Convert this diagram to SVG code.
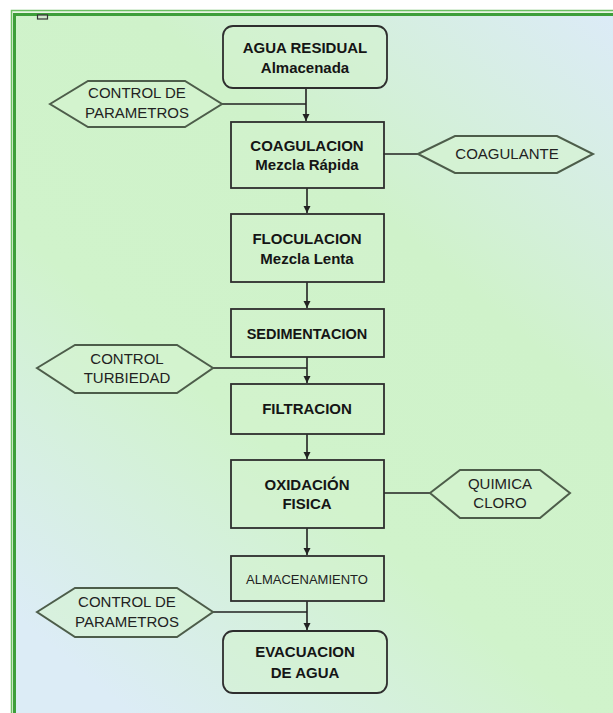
<svg xmlns="http://www.w3.org/2000/svg" width="613" height="713" viewBox="0 0 613 713">
<defs>
<linearGradient id="bg" x1="613" y1="16" x2="16" y2="713" gradientUnits="userSpaceOnUse">
<stop offset="0" stop-color="#dcebf7"/>
<stop offset="0.33" stop-color="#cff2ca"/>
<stop offset="0.6" stop-color="#d0f3cb"/>
<stop offset="0.92" stop-color="#dcecf6"/>
</linearGradient>
<marker id="arr" markerWidth="8" markerHeight="8" refX="7" refY="4" orient="auto" markerUnits="userSpaceOnUse">
<path d="M0,0.5 L7,4 L0,7.5 z" fill="#222"/>
</marker>
<style>
.box{fill:#d3f3cd;fill-opacity:0.55;stroke:#2e2e2e;stroke-width:1.8}
.hex{fill:#d6f4d0;fill-opacity:0.6;stroke:#4d5d4a;stroke-width:2}
.con{fill:none;stroke:#222;stroke-width:1.6}
.tb{font-family:"Liberation Sans",Arial,sans-serif;font-weight:bold;font-size:15px;fill:#151515;text-anchor:middle}
.tn{font-family:"Liberation Sans",Arial,sans-serif;font-size:15px;fill:#222;text-anchor:middle}
</style>
</defs>
<rect x="0" y="0" width="613" height="713" fill="#ffffff"/>
<rect x="12" y="11" width="601" height="702" fill="#eaf6e6"/>
<rect x="16" y="16" width="597" height="697" fill="url(#bg)"/>
<path d="M11.5,713 V10.5 H613" fill="none" stroke="#6cbf63" stroke-width="1.5"/>
<path d="M14.5,713 V14.5 H613" fill="none" stroke="#3d9e3a" stroke-width="3"/>
<rect x="37.5" y="15" width="10" height="4" fill="#cfe6cc" stroke="#333" stroke-width="1.2"/>

<g id="connectors">
<path class="con" d="M306,88 V121" marker-end="url(#arr)"/>
<path class="con" d="M222,104 H306"/>
<path class="con" d="M307,188 V213" marker-end="url(#arr)"/>
<path class="con" d="M383,154 H418"/>
<path class="con" d="M307,282 V308" marker-end="url(#arr)"/>
<path class="con" d="M307,357 V383" marker-end="url(#arr)"/>
<path class="con" d="M213,368 H307"/>
<path class="con" d="M307,434 V459" marker-end="url(#arr)"/>
<path class="con" d="M384,493 H430"/>
<path class="con" d="M307,528 V555" marker-end="url(#arr)"/>
<path class="con" d="M307,601 V630" marker-end="url(#arr)"/>
<path class="con" d="M213,612 H307"/>
</g>

<g id="agua-residual">
<rect class="box" x="223" y="26" width="164" height="62" rx="10"/>
<text class="tb" x="305" y="53">AGUA RESIDUAL</text>
<text class="tb" x="305" y="73">Almacenada</text>
</g>
<g id="control-parametros-1">
<polygon class="hex" points="50,104 88,81 185,81 222,104 185,127 88,127"/>
<text class="tn" x="137" y="98">CONTROL DE</text>
<text class="tn" x="137" y="118">PARAMETROS</text>
</g>
<g id="coagulacion">
<rect class="box" x="231" y="122" width="153" height="66"/>
<text class="tb" x="307" y="151">COAGULACION</text>
<text class="tb" x="307" y="170">Mezcla Rápida</text>
</g>
<g id="coagulante">
<polygon class="hex" points="418,154 455,136 557,136 593,154 557,173 455,173"/>
<text class="tn" x="507" y="159">COAGULANTE</text>
</g>
<g id="floculacion">
<rect class="box" x="231" y="214" width="153" height="68"/>
<text class="tb" x="307" y="244">FLOCULACION</text>
<text class="tb" x="307" y="264">Mezcla Lenta</text>
</g>
<g id="sedimentacion">
<rect class="box" x="231" y="309" width="153" height="48"/>
<text class="tb" x="307" y="339" style="font-size:14.5px">SEDIMENTACION</text>
</g>
<g id="control-turbiedad">
<polygon class="hex" points="37,368 75,345 177,345 213,368 177,393 75,393"/>
<text class="tn" x="127" y="364">CONTROL</text>
<text class="tn" x="127" y="383">TURBIEDAD</text>
</g>
<g id="filtracion">
<rect class="box" x="231" y="384" width="153" height="50"/>
<text class="tb" x="307" y="414">FILTRACION</text>
</g>
<g id="oxidacion">
<rect class="box" x="231" y="460" width="153" height="68"/>
<text class="tb" x="307" y="490">OXIDACIÓN</text>
<text class="tb" x="307" y="509">FISICA</text>
</g>
<g id="quimica-cloro">
<polygon class="hex" points="430,493 460,470 540,470 570,493 540,518 460,518"/>
<text class="tn" x="500" y="489">QUIMICA</text>
<text class="tn" x="500" y="508">CLORO</text>
</g>
<g id="almacenamiento">
<rect class="box" x="231" y="556" width="153" height="45"/>
<text class="tn" x="307" y="584" style="font-size:13px">ALMACENAMIENTO</text>
</g>
<g id="control-parametros-2">
<polygon class="hex" points="37,612 75,588 177,588 213,612 177,637 75,637"/>
<text class="tn" x="127" y="607">CONTROL DE</text>
<text class="tn" x="127" y="627">PARAMETROS</text>
</g>
<g id="evacuacion">
<rect class="box" x="223" y="631" width="164" height="62" rx="10"/>
<text class="tb" x="305" y="657">EVACUACION</text>
<text class="tb" x="305" y="678">DE AGUA</text>
</g>
</svg>
